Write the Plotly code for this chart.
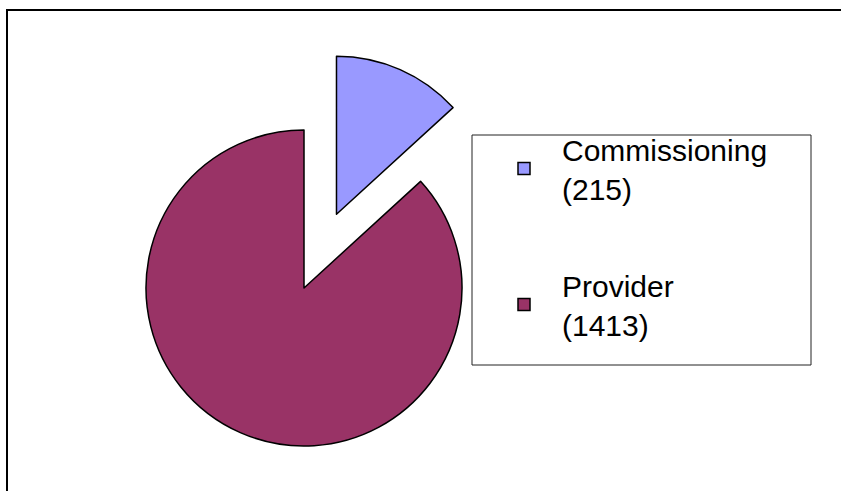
import math
import plotly.graph_objects as go

# Data
labels = ["Commissioning", "Provider"]
values = [215, 1413]
colors = ["#9999FF", "#993366"]

# Figure size (px)
W, H = 841, 491

# Pie geometry (px)
cx, cy, r = 304, 288, 158
pull = 0.51         # explode distance as a fraction of the radius
line_w = 1.5
clear = "rgba(0,0,0,0)"


def domain_for(center_x, center_y, radius):
    return dict(
        x=[(center_x - radius) / W, (center_x + radius) / W],
        y=[(H - center_y - radius) / H, (H - center_y + radius) / H],
    )


# Mid-angle of the first (exploded) slice, clockwise from 12 o'clock
total = sum(values)
mid = math.radians(360 * values[0] / total / 2)
ex_cx = cx + pull * r * math.sin(mid)
ex_cy = cy - pull * r * math.cos(mid)

common = dict(
    labels=labels,
    values=values,
    sort=False,
    direction="clockwise",
    rotation=0,
    textinfo="none",
    showlegend=False,
)

fig = go.Figure()

# Main body of the pie (Provider slice)
fig.add_trace(go.Pie(
    **common,
    domain=domain_for(cx, cy, r),
    marker=dict(colors=[clear, colors[1]],
                line=dict(color=[clear, "black"], width=[0, line_w])),
))

# Exploded Commissioning slice
fig.add_trace(go.Pie(
    **common,
    domain=domain_for(ex_cx, ex_cy, r),
    marker=dict(colors=[colors[0], clear],
                line=dict(color=["black", clear], width=[line_w, 0])),
))

# Legend entries
for lab, val, col in zip(labels, values, colors):
    fig.add_trace(go.Scatter(
        x=[None], y=[None], mode="markers",
        name=f"{lab}<br>({val})",
        legendgroup=lab,
        marker=dict(symbol="square", size=12, color=col,
                    line=dict(color="black", width=1.5)),
        hoverinfo="skip",
    ))


def px_x(v):
    return v / W


def px_y(v):
    return 1 - v / H


shapes = [
    # chart frame
    dict(type="rect", xref="paper", yref="paper",
         x0=px_x(7), y0=px_y(10), x1=1.3, y1=-0.3,
         line=dict(color="black", width=2), fillcolor="rgba(0,0,0,0)", layer="above"),
    # legend box
    dict(type="rect", xref="paper", yref="paper",
         x0=px_x(472), y0=px_y(135), x1=px_x(811), y1=px_y(365),
         line=dict(color="#222222", width=1), fillcolor="white", layer="below"),
]

fig.update_layout(
    width=W, height=H, autosize=False,
    margin=dict(l=0, r=0, t=0, b=0, pad=0),
    paper_bgcolor="white", plot_bgcolor="white",
    xaxis=dict(visible=False), yaxis=dict(visible=False),
    shapes=shapes,
    showlegend=True,
    legend=dict(
        x=px_x(486), y=px_y(123), xanchor="left", yanchor="top",
        bgcolor="rgba(0,0,0,0)", borderwidth=0,
        font=dict(family="Arial, Liberation Sans, sans-serif", size=30, color="black"),
        itemwidth=66, tracegroupgap=55, traceorder="grouped",
        itemsizing="trace", valign="middle",
    ),
    font=dict(family="Arial, Liberation Sans, sans-serif"),
)

fig.write_html("out.html")
